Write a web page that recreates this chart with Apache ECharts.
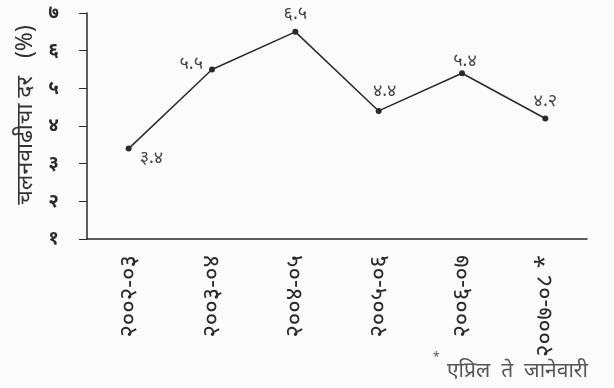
<!DOCTYPE html>
<html>
<head>
<meta charset="utf-8">
<script src="https://cdn.jsdelivr.net/npm/echarts@6/dist/echarts.min.js"></script>
<style>
html,body{margin:0;padding:0;background:#fbfbfb;}
#main{width:614px;height:388px;}
</style>
</head>
<body>
<div id="main"></div>
<script>
// वर्षे (x अक्ष) आणि चलनवाढीचा दर
var years = ['२००२-०३', '२००३-०४', '२००४-०५', '२००५-०६', '२००६-०७', '२००७-०८ *'];
var rate = [3.4, 5.5, 6.5, 4.4, 5.4, 4.2];
var yTicks = ['१', '२', '३', '४', '५', '६', '७'];
var labelPos = ['right', 'left', 'top', 'top', 'top', 'top'];
var labelShift = [[2, 9], [0, -6], [0, 0], [6, -2], [3, 6], [0, 0]];

var devDigits = '०१२३४५६७८९';
function toDev(v){
    return String(v).replace(/[0-9]/g, function(d){ return devDigits[+d]; });
}

var font = "'Noto Sans', 'Noto Sans Devanagari', sans-serif";
var ink = '#2a2a2a';

var pts = [];
for (var i = 0; i < rate.length; i++) {
    pts.push({
        value: rate[i],
        label: { position: labelPos[i], offset: labelShift[i] }
    });
}

var myChart = echarts.init(document.getElementById('main'));
var option = {
    animation: false,
    backgroundColor: '#fbfbfb',
    grid: { left: 87, right: 27, top: 13, bottom: 149 },
    xAxis: {
        type: 'category',
        data: years,
        boundaryGap: true,
        axisLine: { lineStyle: { color: ink, width: 1.5 } },
        axisTick: { alignWithLabel: false, length: 8, lineStyle: { color: ink } },
        axisLabel: {
            rotate: 90,
            margin: 16,
            fontSize: 24,
            color: ink,
            fontFamily: font,
            interval: 0
        }
    },
    yAxis: {
        type: 'value',
        min: 1,
        max: 7,
        interval: 1,
        name: 'चलनवाढीचा दर   (%)',
        nameLocation: 'middle',
        nameRotate: 90,
        nameGap: 50,
        nameTextStyle: { fontSize: 23, color: '#333', fontFamily: font, padding: [0, 0, 0, 22] },
        splitLine: { show: false },
        axisLine: { show: true, lineStyle: { color: ink, width: 1.5 } },
        axisTick: { show: true, length: 8, lineStyle: { color: ink } },
        axisLabel: {
            margin: 28,
            fontSize: 19,
            fontWeight: 'bold',
            color: ink,
            fontFamily: font,
            formatter: function(v){ return yTicks[v - 1]; }
        }
    },
    series: [{
        type: 'line',
        data: pts,
        symbol: 'circle',
        symbolSize: 6,
        itemStyle: { color: ink },
        lineStyle: { color: ink, width: 1.5 },
        label: {
            show: true,
            fontSize: 18,
            color: '#444',
            fontFamily: font,
            distance: 6,
            formatter: function(p){ return toDev(p.value.toFixed(1)); }
        }
    }],
    graphic: [{
        type: 'text',
        left: 433,
        top: 352,
        style: { text: '*', fontSize: 12, fill: '#555', fontFamily: font }
    }, {
        type: 'text',
        left: 447,
        top: 361,
        style: {
            text: 'एप्रिल  ते  जानेवारी',
            fontSize: 21,
            fill: '#555',
            fontFamily: font
        }
    }]
};
myChart.setOption(option);
</script>
</body>
</html>
